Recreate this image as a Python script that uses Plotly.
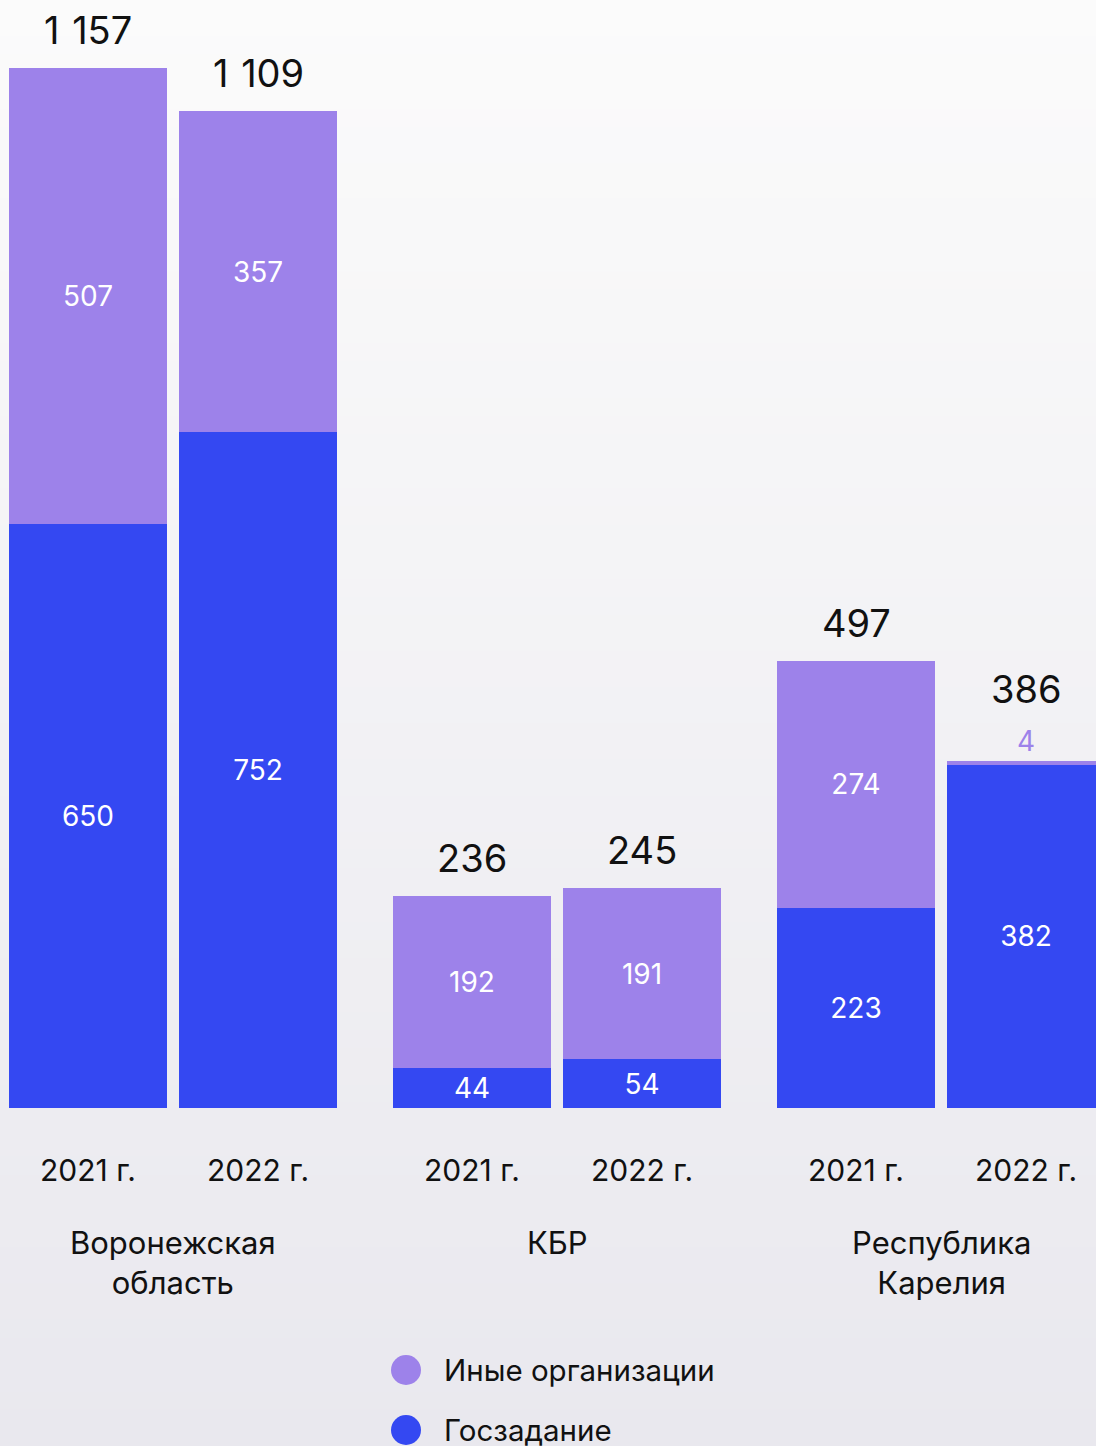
import plotly.graph_objects as go

groups = ["Воронежская<br>область", "КБР", "Республика<br>Карелия"]
years = ["2021 г.", "2022 г."]
gos = [[650, 752], [44, 54], [223, 382]]        # Госзадание
other = [[507, 357], [192, 191], [274, 4]]      # Иные организации

PURPLE = "#9D82EA"
BLUE = "#3448F2"
FONT = "Inter"
TXT = "#111111"

W, H = 1096, 1446
BASE = 1108  # baseline pixel
GROUP_STEP = 384 / 170
BAR_W = 158 / 170

xs, xl, g_v, o_v, tot = [], [], [], [], []
for gi, g in enumerate(groups):
    for j, y in enumerate(years):
        xs.append(gi * GROUP_STEP + j)
        xl.append(y)
        g_v.append(gos[gi][j])
        o_v.append(other[gi][j])
        tot.append(gos[gi][j] + other[gi][j])

ymax = 1157 * BASE / 1040

fig = go.Figure()
fig.add_bar(x=xs, y=g_v, width=BAR_W, marker=dict(color=BLUE, line=dict(width=0)),
            text=[str(v) for v in g_v], textposition="inside", insidetextanchor="middle",
            textfont=dict(color="white", size=28, family=FONT), name="Госзадание",
            showlegend=False, cliponaxis=False)
small = [v < 20 for v in o_v]
fig.add_bar(x=xs, y=o_v, width=BAR_W, marker=dict(color=PURPLE, line=dict(width=0)),
            text=[str(v) for v in o_v],
            textposition=["outside" if s else "inside" for s in small],
            insidetextanchor="middle",
            insidetextfont=dict(color="white", size=28, family=FONT),
            outsidetextfont=dict(color=PURPLE, size=28, family=FONT),
            name="Иные организации", showlegend=False, cliponaxis=False)

ann = []
for x, t, s in zip(xs, tot, small):
    ann.append(dict(x=x, y=t, xref="x", yref="y", text=f"{t:,}".replace(",", "\u2004"),
                    showarrow=False, yanchor="middle", yshift=72 if s else 38,
                    font=dict(size=38, color=TXT, family=FONT)))
for x, l in zip(xs, xl):
    ann.append(dict(x=x, y=(BASE - 1170) / BASE, xref="x", yref="paper", text=l,
                    showarrow=False, yanchor="middle",
                    font=dict(size=30, color=TXT, family=FONT)))
for gi, g in enumerate(groups):
    ann.append(dict(x=gi * GROUP_STEP + 0.5, y=(BASE - 1222) / BASE, xref="x", yref="paper",
                    text=g, showarrow=False, yanchor="top", align="center",
                    font=dict(size=31, color=TXT, family=FONT)))

# custom legend
shapes = []
leg = [("Иные организации", PURPLE, 1370), ("Госзадание", BLUE, 1430)]
for name, col, py in leg:
    cy = (BASE - py) / BASE
    r = 15
    shapes.append(dict(type="circle", xref="paper", yref="paper",
                       x0=(406 - r) / W, x1=(406 + r) / W,
                       y0=cy - r / BASE, y1=cy + r / BASE,
                       fillcolor=col, line=dict(width=0), layer="above"))
    ann.append(dict(x=442 / W, y=cy, xref="paper", yref="paper", text=name,
                    showarrow=False, xanchor="left", yanchor="middle",
                    font=dict(size=29.5, color=TXT, family=FONT)))

# gradient background stripes
N = 80
top = (251, 251, 251)
bot = (233, 232, 238)
for i in range(N):
    p0 = i * H / N
    p1 = (i + 1) * H / N + 1
    f = (i + 0.5) / N
    c = tuple(round(top[k] + (bot[k] - top[k]) * f) for k in range(3))
    shapes.append(dict(type="rect", xref="paper", yref="paper", x0=0, x1=1,
                       y0=(BASE - p1) / BASE, y1=(BASE - p0) / BASE,
                       fillcolor="rgb(%d,%d,%d)" % c, line=dict(width=0), layer="below"))

fig.update_layout(
    width=W, height=H, barmode="stack",
    margin=dict(l=0, r=0, t=0, b=H - BASE),
    paper_bgcolor="rgb(233,232,238)", plot_bgcolor="rgba(0,0,0,0)",
    xaxis=dict(range=[-88 / 170, (W - 88) / 170], showgrid=False, zeroline=False,
               showticklabels=False, fixedrange=True),
    yaxis=dict(range=[0, ymax], showgrid=False, zeroline=False, showticklabels=False,
               fixedrange=True),
    annotations=ann, shapes=shapes, font=dict(family=FONT),
    uniformtext=dict(minsize=28, mode="show"),
)

fig.write_html("out.html")
